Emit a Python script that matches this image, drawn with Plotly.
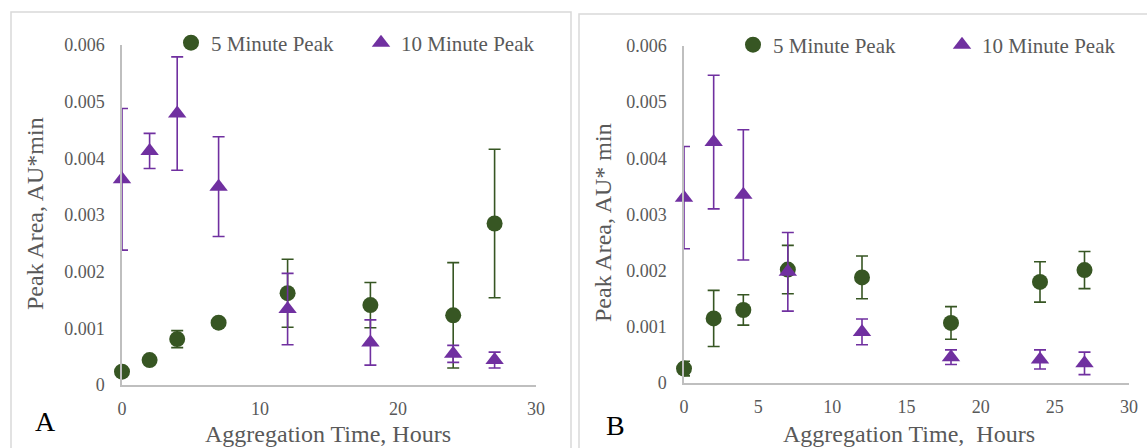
from plotly.subplots import make_subplots
import plotly.graph_objs as go

# aggregation time points (hours)
hours = [0, 2, 4, 7, 12, 18, 24, 27]

# panel A
a_5min = [0.000235, 0.00044, 0.00081, 0.0011, 0.00162, 0.00141, 0.00123, 0.00285]
a_5min_err = [0.00004, 0.00004, 0.00015, 0.00004, 0.0006, 0.0004, 0.00093, 0.00131]
a_10min = [0.00363, 0.00413, 0.00479, 0.0035, 0.00134, 0.00075, 0.00055, 0.00044]
a_10min_err = [0.00125, 0.00031, 0.001, 0.00088, 0.00063, 0.0004, 0.00015, 0.00014]

# panel B
b_5min = [0.000256, 0.00115, 0.0013, 0.00202, 0.00188, 0.00107, 0.0018, 0.00201]
b_5min_err = [0.00013, 0.0005, 0.00027, 0.00043, 0.00038, 0.00029, 0.00036, 0.00033]
b_10min = [0.0033, 0.00429, 0.00335, 0.00198, 0.00091, 0.00046, 0.00042, 0.00035]
b_10min_err = [0.00091, 0.00119, 0.00116, 0.0007, 0.00023, 0.00013, 0.00017, 0.0002]

y_ticks = [0, 0.001, 0.002, 0.003, 0.004, 0.005, 0.006]
y_ticktext = ['0', '0.001', '0.002', '0.003', '0.004', '0.005', '0.006']
a_xticks = [0, 10, 20, 30]
b_xticks = [0, 5, 10, 15, 20, 25, 30]

GREEN = '#375623'
PURPLE = '#7030A0'
GREY_TXT = '#595959'
FONT = 'Liberation Serif'
W, H = 1147, 448

fig = make_subplots(rows=1, cols=2)


def add_series(y, err, col, name, color, symbol, legend):
    fig.add_trace(go.Scatter(
        x=hours, y=y, mode='markers', name=name, legend=legend,
        marker=dict(color=color, symbol=symbol, size=16, line=dict(width=0)),
        error_y=dict(type='data', array=err, color=color, thickness=1.6, width=6),
        cliponaxis=False,
    ), row=1, col=col)


add_series(a_5min, a_5min_err, 1, '5 Minute Peak', GREEN, 'circle', 'legend')
add_series(a_10min, a_10min_err, 1, '10 Minute Peak', PURPLE, 'triangle-up', 'legend')
add_series(b_5min, b_5min_err, 2, '5 Minute Peak', GREEN, 'circle', 'legend2')
add_series(b_10min, b_10min_err, 2, '10 Minute Peak', PURPLE, 'triangle-up', 'legend2')

axis_style = dict(showline=True, linecolor='#bfbfbf', linewidth=1.5, showgrid=False,
                  zeroline=False, ticks='', automargin=False,
                  tickfont=dict(family=FONT, size=18, color=GREY_TXT))

fig.update_xaxes(axis_style)
fig.update_yaxes(axis_style)
fig.update_yaxes(range=[0, 0.006], tickvals=y_ticks, ticktext=y_ticktext, ticklabelstandoff=12)
fig.update_xaxes(range=[0, 30], ticklabelstandoff=7)

fig.update_layout(
    xaxis=dict(domain=[122 / W, 536 / W], tickvals=a_xticks),
    yaxis=dict(domain=[1 - 385 / H, 1 - 45 / H]),
    xaxis2=dict(domain=[684 / W, 1129 / W], tickvals=b_xticks),
    yaxis2=dict(domain=[1 - 383 / H, 1 - 46 / H]),
    width=W, height=H,
    margin=dict(l=0, r=0, t=0, b=0, autoexpand=False),
    plot_bgcolor='white', paper_bgcolor='white',
    font=dict(family=FONT, color=GREY_TXT),
    legend=dict(orientation='h', x=171 / W, xanchor='left', y=1 - 43 / H, yanchor='middle',
                font=dict(family=FONT, size=21, color=GREY_TXT), itemwidth=30,
                entrywidth=145, entrywidthmode='pixels', bgcolor='rgba(0,0,0,0)'),
    legend2=dict(orientation='h', x=733 / W, xanchor='left', y=1 - 45 / H, yanchor='middle',
                 font=dict(family=FONT, size=21, color=GREY_TXT), itemwidth=30,
                 entrywidth=164, entrywidthmode='pixels', bgcolor='rgba(0,0,0,0)'),
    shapes=[
        dict(type='rect', xref='paper', yref='paper', x0=11 / W, x1=571 / W, y0=-0.1, y1=1 - 12 / H,
             line=dict(color='#d9d9d9', width=1.5), fillcolor='rgba(0,0,0,0)', layer='below'),
        dict(type='rect', xref='paper', yref='paper', x0=579 / W, x1=1.05, y0=-0.1, y1=1 - 14 / H,
             line=dict(color='#d9d9d9', width=1.5), fillcolor='rgba(0,0,0,0)', layer='below'),
    ],
)

title_font = dict(family=FONT, size=24, color=GREY_TXT)
annotations = [
    dict(text='Aggregation Time, Hours', x=328 / W, y=1 - 434 / H, font=title_font),
    dict(text='Aggregation Time,  Hours', x=909 / W, y=1 - 434 / H, font=title_font),
    dict(text='Peak Area, AU*min', x=35 / W, y=1 - 214 / H, textangle=-90, font=title_font),
    dict(text='Peak Area, AU* min', x=603 / W, y=1 - 223 / H, textangle=-90, font=title_font),
    dict(text='A', x=45 / W, y=1 - 421 / H, font=dict(family=FONT, size=28, color='black')),
    dict(text='B', x=615 / W, y=1 - 425 / H, font=dict(family=FONT, size=28, color='black')),
]
for a in annotations:
    fig.add_annotation(xref='paper', yref='paper', showarrow=False,
                       xanchor='center', yanchor='middle', **a)

fig.write_html("out.html", config={'displayModeBar': False},
               post_script="document.body.style.margin='0';")
